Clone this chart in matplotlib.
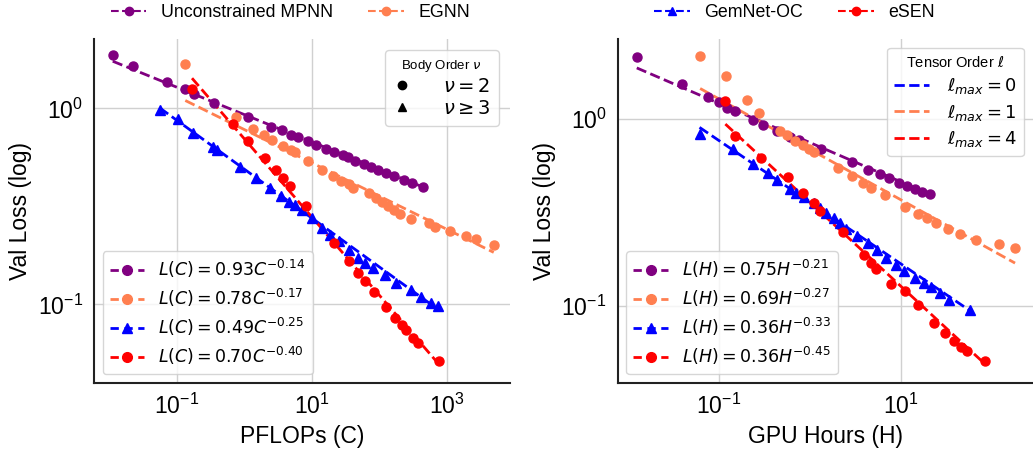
import numpy as np
import matplotlib
matplotlib.use('Agg')
import matplotlib.pyplot as plt
from matplotlib.lines import Line2D

plt.rcParams['font.family'] = ['Liberation Sans', 'DejaVu Sans']
plt.rcParams['mathtext.fontset'] = 'dejavusans'

# ---- left panel: PFLOPs ----
mpnn_c = [0.0114, 0.0226, 0.0726, 0.1315, 0.181, 0.36, 1.13, 2.51, 3.62, 4.98, 6.26, 8.61, 11.3,
          16.0, 21.5, 28.3, 34.0, 42.7, 58.7, 75.5, 95.0, 122, 164, 226, 305, 430]
mpnn_c_loss = [1.88, 1.65, 1.36, 1.26, 1.19, 1.07, 0.907, 0.807, 0.776, 0.735, 0.718, 0.680, 0.654,
               0.624, 0.596, 0.577, 0.564, 0.542, 0.521, 0.502, 0.486, 0.468, 0.450, 0.430, 0.416, 0.397]

egnn_c = [0.1345, 0.763, 1.355, 1.95, 2.56, 3.78, 4.98, 5.58, 8.61, 14.2, 20.5, 27.0, 34.8, 39.8,
          69.0, 88.7, 109, 131, 164, 202, 291, 540, 647, 1096, 1897, 2673, 4842]
egnn_c_loss = [1.68, 0.907, 0.789, 0.730, 0.691, 0.644, 0.614, 0.600, 0.542, 0.486, 0.450, 0.426,
               0.410, 0.391, 0.370, 0.348, 0.335, 0.319, 0.303, 0.289, 0.273, 0.261, 0.249, 0.236,
               0.223, 0.215, 0.202]

gemnet_c = [0.0565, 0.1047, 0.173, 0.343, 0.394, 0.877, 1.48, 2.40, 3.53, 4.55, 5.71, 7.02, 9.89,
            13.9, 18.7, 24.7, 34.8, 47.9, 60.1, 79.1, 119, 172, 291, 410, 565, 726]
gemnet_c_loss = [0.981, 0.887, 0.746, 0.639, 0.610, 0.502, 0.440, 0.391, 0.359, 0.335, 0.322, 0.305,
                 0.275, 0.245, 0.225, 0.211, 0.189, 0.172, 0.162, 0.153, 0.141, 0.129, 0.119, 0.109,
                 0.102, 0.0977]

esen_c = [0.169, 0.682, 1.13, 2.00, 2.94, 3.78, 4.75, 8.05, 21.5, 34.8, 47.9, 61.5, 82.8, 125,
          168, 211, 248, 312, 374, 760]
esen_c_loss = [1.26, 0.832, 0.685, 0.560, 0.483, 0.443, 0.403, 0.319, 0.206, 0.166, 0.144, 0.131,
               0.116, 0.0969, 0.0849, 0.0785, 0.0738, 0.0678, 0.0637, 0.0512]

# ---- right panel: GPU hours ----
mpnn_h = [0.01256, 0.0395, 0.0763, 0.100, 0.1245, 0.150, 0.236, 0.305, 0.434, 0.608, 0.757, 1.34,
          2.87, 4.30, 5.83, 7.39, 9.51, 11.8, 14.3, 16.9, 20.6]
mpnn_h_loss = [2.15, 1.54, 1.31, 1.23, 1.15, 1.10, 0.992, 0.929, 0.870, 0.802, 0.776, 0.692,
               0.588, 0.538, 0.508, 0.483, 0.457, 0.438, 0.421, 0.408, 0.397]

egnn_h = [0.0624, 0.1205, 0.203, 0.275, 0.465, 0.559, 0.695, 0.837, 0.975, 1.12, 2.05, 2.92, 3.82,
          4.68, 6.67, 11.1, 15.5, 19.3, 24.4, 33.1, 44.1, 67.3, 119, 179]
egnn_h_loss = [2.19, 1.70, 1.27, 1.08, 0.870, 0.822, 0.764, 0.727, 0.692, 0.665, 0.551, 0.496,
               0.457, 0.431, 0.394, 0.340, 0.313, 0.296, 0.280, 0.260, 0.242, 0.226, 0.214, 0.205]

gemnet_h = [0.0614, 0.1426, 0.240, 0.343, 0.434, 0.608, 0.708, 0.851, 1.10, 1.28, 1.51, 1.82, 2.12,
            2.51, 3.28, 4.30, 5.45, 6.90, 8.89, 10.7, 14.3, 17.7, 21.4, 27.0, 33.7, 56.9]
gemnet_h_loss = [0.836, 0.692, 0.578, 0.516, 0.472, 0.424, 0.404, 0.382, 0.355, 0.335, 0.316, 0.296,
                 0.280, 0.260, 0.236, 0.219, 0.199, 0.182, 0.166, 0.154, 0.142, 0.133, 0.126, 0.117,
                 0.108, 0.0960]

esen_h = [0.118, 0.150, 0.294, 0.569, 0.837, 1.10, 1.28, 2.31, 3.89, 4.68, 5.36, 7.76, 11.2, 15.5,
          22.8, 30.5, 38.5, 45.6, 53.1, 83.8]
esen_h_loss = [1.25, 0.815, 0.618, 0.488, 0.401, 0.355, 0.321, 0.248, 0.189, 0.171, 0.159, 0.132,
               0.120, 0.101, 0.0809, 0.0721, 0.0654, 0.0608, 0.0578, 0.0508]

# fitted power laws from the legend: (coef, exponent)
fits_c = [(0.93, 0.14), (0.78, 0.17), (0.49, 0.25), (0.70, 0.40)]
fits_h = [(0.75, 0.21), (0.69, 0.27), (0.36, 0.33), (0.36, 0.45)]

names = ['Unconstrained MPNN', 'EGNN', 'GemNet-OC', 'eSEN']
colors = ['purple', '#FF7F50', 'blue', 'red']
markers = ['o', 'o', '^', 'o']


def draw_panel(ax, xs, ys, fits, var, xlabel, xticks):
    handles = []
    for x, y, (a, b), c, m in zip(xs, ys, fits, colors, markers):
        x = np.array(x)
        ax.plot(x, y, linestyle='none', marker=m, color=c, markersize=6.5, zorder=3)
        xx = np.logspace(np.log10(x.min()), np.log10(x.max()), 50)
        ax.plot(xx, a * xx ** (-b), '--', color=c, lw=2, zorder=2)
        lab = r'$L(%s) = %.2f%s^{-%.2f}$' % (var, a, var, b)
        handles.append(Line2D([], [], color=c, ls=(0, (3, 2)), lw=2, marker=m, markersize=7,
                              label=lab))
    ax.set_xscale('log')
    ax.set_yscale('log')
    ax.set_xticks(xticks)
    ax.minorticks_off()
    ax.set_yticks([0.1, 1])
    ax.tick_params(axis='both', labelsize=16.5, length=0, pad=8)
    ax.grid(True, color='#d0d0d0', lw=1)
    for s in ['top', 'right']:
        ax.spines[s].set_visible(False)
    for s in ['left', 'bottom']:
        ax.spines[s].set_color('#222222')
        ax.spines[s].set_linewidth(1.5)
    ax.set_xlabel(xlabel, fontsize=16.5)
    ax.set_ylabel('Val Loss (log)', fontsize=16.5)
    leg = ax.legend(handles=handles, loc='lower left', fontsize=12.5, handlelength=2.0,
                    borderaxespad=0.5, labelspacing=0.4, handletextpad=0.8,
                    edgecolor='#cccccc')
    ax.add_artist(leg)
    return handles


fig = plt.figure(figsize=(10.33, 4.51), dpi=100)
ax1 = fig.add_axes([0.091, 0.151, 0.403, 0.763])
ax2 = fig.add_axes([0.598, 0.151, 0.402, 0.763])

draw_panel(ax1, [mpnn_c, egnn_c, gemnet_c, esen_c],
           [mpnn_c_loss, egnn_c_loss, gemnet_c_loss, esen_c_loss],
           fits_c, 'C', 'PFLOPs (C)', [0.1, 10, 1000])
ax1.set_xlim(10 ** -2.22, 10 ** 3.93)
ax1.set_ylim(10 ** -1.40, 10 ** 0.355)

draw_panel(ax2, [mpnn_h, egnn_h, gemnet_h, esen_h],
           [mpnn_h_loss, egnn_h_loss, gemnet_h_loss, esen_h_loss],
           fits_h, 'H', 'GPU Hours (H)', [0.1, 10])
ax2.set_xlim(10 ** -2.11, 10 ** 2.45)
ax2.set_ylim(10 ** -1.41, 10 ** 0.43)

# body order legend
bo = [Line2D([], [], ls='none', marker='o', color='black', markersize=6, label=r'$\nu = 2$'),
      Line2D([], [], ls='none', marker='^', color='black', markersize=6, label=r'$\nu \geq 3$')]
ax1.legend(handles=bo, loc='upper right', title=r'Body Order $\nu$', fontsize=14,
           title_fontsize=9.5, edgecolor='#cccccc', handlelength=1.0, handletextpad=1.6,
           labelspacing=0.2, borderaxespad=0.6)

# tensor order legend
to = [Line2D([], [], ls='--', lw=2, color=c, label=r'$\ell_{max} = %d$' % l)
      for c, l in zip(['blue', '#FF7F50', 'red'], [0, 1, 4])]
ax2.legend(handles=to, loc='upper right', title=r'Tensor Order $\ell$', fontsize=13,
           title_fontsize=10.5, edgecolor='#cccccc', handlelength=1.9, handletextpad=1.0,
           labelspacing=0.35, borderaxespad=0.5)

# top model legends
for cx, idx in [(0.281, [0, 1]), (0.769, [2, 3])]:
    h = [Line2D([], [], color=colors[i], ls='--', lw=1.5, marker=markers[i], markersize=6,
                label=names[i]) for i in idx]
    fig.legend(handles=h, loc='lower center', ncol=2, frameon=False, fontsize=12.8,
               bbox_to_anchor=(cx, 0.918), columnspacing=2.0, handlelength=2.0)

fig.savefig('out.png', dpi=100)
